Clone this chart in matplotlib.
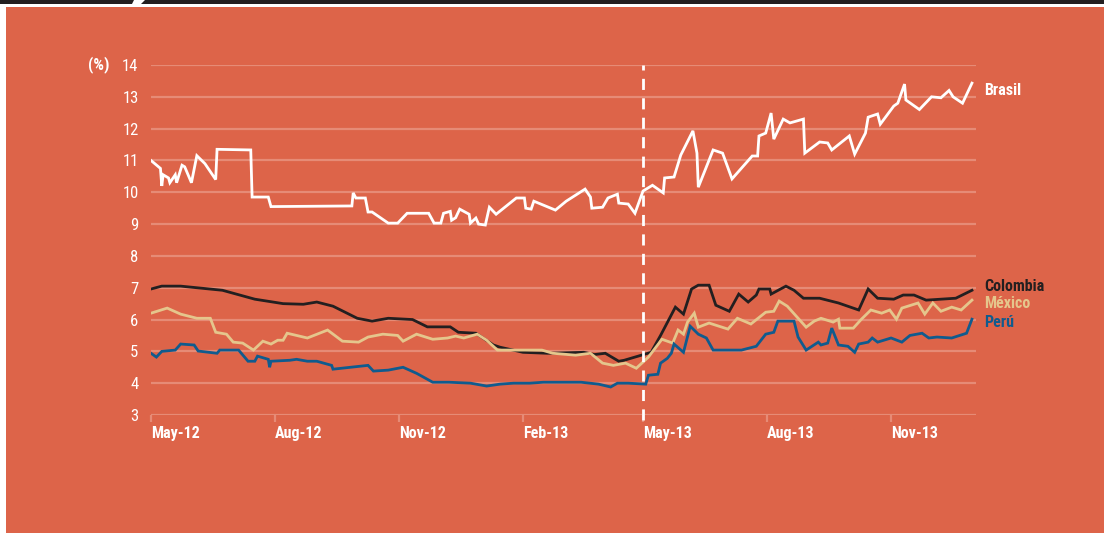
import numpy as np
import pandas as pd
import matplotlib.pyplot as plt
from matplotlib.patches import Rectangle, Polygon
from matplotlib.transforms import blended_transform_factory

# %% data (%)
brasil_dates = ['2012-05-01', '2012-05-08', '2012-05-09', '2012-05-10', '2012-05-14', '2012-05-15',
                '2012-05-19', '2012-05-20', '2012-05-24', '2012-05-26', '2012-05-31', '2012-06-04',
                '2012-06-10', '2012-06-18', '2012-06-19', '2012-07-14', '2012-07-15', '2012-07-27',
                '2012-07-29', '2012-09-27', '2012-09-28', '2012-09-30', '2012-10-07', '2012-10-09',
                '2012-10-12', '2012-10-24', '2012-10-31', '2012-11-07', '2012-11-23', '2012-11-27',
                '2012-12-02', '2012-12-04', '2012-12-09', '2012-12-10', '2012-12-13', '2012-12-16',
                '2012-12-23', '2012-12-24', '2012-12-28', '2012-12-30', '2013-01-04', '2013-01-07',
                '2013-01-12', '2013-01-27', '2013-02-02', '2013-02-03', '2013-02-07', '2013-02-09',
                '2013-02-25', '2013-03-05', '2013-03-19', '2013-03-23', '2013-03-24', '2013-04-01',
                '2013-04-05', '2013-04-12', '2013-04-13', '2013-04-20', '2013-04-25', '2013-05-01',
                '2013-05-08', '2013-05-16', '2013-05-17', '2013-05-24', '2013-05-29', '2013-06-07',
                '2013-06-10', '2013-06-11', '2013-06-22', '2013-06-29', '2013-07-06', '2013-07-21',
                '2013-07-25', '2013-07-26', '2013-07-31', '2013-08-04', '2013-08-06', '2013-08-13',
                '2013-08-18', '2013-08-28', '2013-08-29', '2013-09-09', '2013-09-15', '2013-09-18',
                '2013-10-01', '2013-10-05', '2013-10-13', '2013-10-15', '2013-10-22', '2013-10-24',
                '2013-11-03', '2013-11-06', '2013-11-11', '2013-11-12', '2013-11-22', '2013-12-01',
                '2013-12-08', '2013-12-14', '2013-12-17', '2013-12-24', '2013-12-31']
brasil = [11.0, 10.75, 10.2, 10.55, 10.45, 10.3,
          10.55, 10.3, 10.85, 10.8, 10.3, 11.15,
          10.9, 10.4, 11.35, 11.33, 9.85, 9.85,
          9.55, 9.57, 9.98, 9.82, 9.82, 9.38,
          9.38, 9.03, 9.03, 9.34, 9.34, 9.03,
          9.03, 9.34, 9.4, 9.12, 9.2, 9.47,
          9.31, 9.03, 9.19, 9.0, 8.97, 9.53,
          9.31, 9.82, 9.82, 9.5, 9.47, 9.72,
          9.44, 9.72, 10.1, 9.85, 9.5, 9.53,
          9.82, 9.94, 9.66, 9.63, 9.34, 10.04,
          10.22, 9.98, 10.45, 10.48, 11.17, 11.93,
          11.23, 10.16, 11.33, 11.23, 10.42, 11.14,
          11.14, 11.77, 11.86, 12.49, 11.67, 12.3,
          12.18, 12.3, 11.23, 11.58, 11.55, 11.33,
          11.77, 11.2, 11.86, 12.36, 12.46, 12.14,
          12.71, 12.8, 13.4, 12.9, 12.6, 13.0,
          12.97, 13.2, 13.0, 12.8, 13.43]

colombia_dates = ['2012-05-01', '2012-05-09', '2012-05-23', '2012-06-23', '2012-07-17', '2012-08-07',
                  '2012-08-22', '2012-09-01', '2012-09-13', '2012-10-01', '2012-10-12', '2012-10-24',
                  '2012-11-11', '2012-11-22', '2012-12-09', '2012-12-15', '2012-12-28', '2013-01-10',
                  '2013-01-15', '2013-02-01', '2013-02-19', '2013-03-18', '2013-03-26', '2013-04-03',
                  '2013-04-13', '2013-04-17', '2013-05-07', '2013-05-14', '2013-05-25', '2013-05-31',
                  '2013-06-06', '2013-06-11', '2013-06-19', '2013-06-24', '2013-07-04', '2013-07-11',
                  '2013-07-18', '2013-07-24', '2013-07-26', '2013-08-03', '2013-08-04', '2013-08-15',
                  '2013-08-21', '2013-08-28', '2013-09-09', '2013-09-23', '2013-10-08', '2013-10-15',
                  '2013-10-22', '2013-11-03', '2013-11-10', '2013-11-18', '2013-11-27', '2013-12-19',
                  '2013-12-31']
colombia = [6.96, 7.05, 7.05, 6.92, 6.64, 6.5,
            6.48, 6.55, 6.42, 6.04, 5.95, 6.04,
            6.0, 5.77, 5.77, 5.6, 5.57, 5.2,
            5.13, 4.97, 4.94, 4.97, 4.9, 4.94,
            4.69, 4.72, 4.97, 5.5, 6.39, 6.17,
            6.96, 7.08, 7.08, 6.45, 6.26, 6.8,
            6.55, 6.77, 6.96, 6.96, 6.8, 7.05,
            6.92, 6.67, 6.67, 6.52, 6.3, 6.96,
            6.67, 6.64, 6.77, 6.77, 6.61, 6.67,
            6.92]

mexico_dates = ['2012-05-01', '2012-05-13', '2012-05-23', '2012-06-04', '2012-06-14', '2012-06-18',
                '2012-06-26', '2012-07-01', '2012-07-08', '2012-07-16', '2012-07-23', '2012-07-29',
                '2012-08-03', '2012-08-07', '2012-08-10', '2012-08-25', '2012-09-09', '2012-09-20',
                '2012-10-02', '2012-10-09', '2012-10-20', '2012-10-31', '2012-11-04', '2012-11-14',
                '2012-11-26', '2012-12-07', '2012-12-13', '2012-12-19', '2012-12-29', '2013-01-05',
                '2013-01-13', '2013-01-20', '2013-02-15', '2013-02-23', '2013-03-12', '2013-03-23',
                '2013-04-01', '2013-04-09', '2013-04-18', '2013-04-26', '2013-05-05', '2013-05-15',
                '2013-05-23', '2013-05-27', '2013-05-31', '2013-06-03', '2013-06-08', '2013-06-11',
                '2013-06-19', '2013-07-03', '2013-07-10', '2013-07-20', '2013-07-31', '2013-08-06',
                '2013-08-10', '2013-08-16', '2013-08-30', '2013-09-05', '2013-09-10', '2013-09-19',
                '2013-09-23', '2013-09-24', '2013-10-04', '2013-10-10', '2013-10-17', '2013-10-25',
                '2013-10-31', '2013-11-05', '2013-11-09', '2013-11-21', '2013-11-26', '2013-12-02',
                '2013-12-08', '2013-12-16', '2013-12-23', '2013-12-31']
mexico = [6.2, 6.36, 6.17, 6.04, 6.04, 5.6,
          5.54, 5.29, 5.26, 5.04, 5.32, 5.23,
          5.35, 5.35, 5.57, 5.42, 5.67, 5.32,
          5.29, 5.45, 5.54, 5.5, 5.32, 5.54,
          5.38, 5.42, 5.48, 5.42, 5.54, 5.35,
          5.04, 5.04, 5.04, 4.94, 4.88, 4.94,
          4.63, 4.56, 4.63, 4.47, 4.82, 5.38,
          5.26, 5.67, 5.54, 5.92, 6.2, 5.76,
          5.89, 5.7, 6.04, 5.86, 6.23, 6.26,
          6.58, 6.42, 5.76, 5.95, 6.04, 5.92,
          6.01, 5.73, 5.73, 6.01, 6.3, 6.2,
          6.3, 6.01, 6.36, 6.52, 6.17, 6.52,
          6.26, 6.39, 6.3, 6.61]

peru_dates = ['2012-05-01', '2012-05-05', '2012-05-09', '2012-05-19', '2012-05-23', '2012-06-02',
              '2012-06-05', '2012-06-19', '2012-06-21', '2012-07-05', '2012-07-12', '2012-07-17',
              '2012-07-19', '2012-07-27', '2012-07-28', '2012-07-29', '2012-08-12', '2012-08-17',
              '2012-08-25', '2012-09-01', '2012-09-12', '2012-09-13', '2012-10-09', '2012-10-13',
              '2012-10-24', '2012-11-04', '2012-11-14', '2012-11-26', '2012-12-08', '2012-12-24',
              '2013-01-05', '2013-01-15', '2013-01-25', '2013-02-06', '2013-02-16', '2013-03-16',
              '2013-03-29', '2013-04-07', '2013-04-12', '2013-04-20', '2013-05-03', '2013-05-05',
              '2013-05-12', '2013-05-14', '2013-05-19', '2013-05-22', '2013-05-24', '2013-05-31',
              '2013-06-05', '2013-06-11', '2013-06-17', '2013-06-22', '2013-07-13', '2013-07-24',
              '2013-07-31', '2013-08-06', '2013-08-09', '2013-08-21', '2013-08-24', '2013-08-30',
              '2013-09-08', '2013-09-10', '2013-09-15', '2013-09-18', '2013-09-23', '2013-09-30',
              '2013-10-05', '2013-10-08', '2013-10-15', '2013-10-18', '2013-10-22', '2013-11-01',
              '2013-11-09', '2013-11-15', '2013-11-24', '2013-11-29', '2013-12-05', '2013-12-16',
              '2013-12-27', '2013-12-31']
peru = [4.94, 4.82, 5.0, 5.04, 5.23, 5.2,
        5.01, 4.94, 5.04, 5.04, 4.69, 4.69,
        4.85, 4.75, 4.5, 4.69, 4.72, 4.75,
        4.69, 4.69, 4.56, 4.44, 4.56, 4.38,
        4.41, 4.5, 4.31, 4.03, 4.03, 4.0,
        3.91, 3.97, 4.0, 4.0, 4.03, 4.03,
        3.97, 3.88, 4.0, 4.0, 3.97, 4.25,
        4.28, 4.63, 4.78, 4.94, 5.23, 4.97,
        5.79, 5.54, 5.42, 5.04, 5.04, 5.16,
        5.54, 5.6, 5.95, 5.95, 5.45, 5.04,
        5.29, 5.2, 5.26, 5.73, 5.2, 5.16,
        4.97, 5.23, 5.29, 5.42, 5.29, 5.42,
        5.29, 5.5, 5.57, 5.42, 5.45, 5.42,
        5.57, 6.01]

series_names = ['Brasil', 'Colombia', 'México', 'Perú']
label_y = [13.2, 7.05, 6.52, 5.92]
tick_dates = ['2012-05-01', '2012-08-01', '2012-11-01', '2013-02-01',
              '2013-05-01', '2013-08-01', '2013-11-01']
tick_labels = ['May-12', 'Aug-12', 'Nov-12', 'Feb-13', 'May-13', 'Aug-13', 'Nov-13']
marker_date = '2013-05-01'

# %% style
bg = '#DD6449'
grid_c = '#E68B76'
colors = ['white', '#231F20', '#E5C68C', '#105B8E']
plt.rcParams['font.family'] = ['Roboto Condensed', 'Roboto', 'DejaVu Sans']

fig = plt.figure(figsize=(11.04, 5.33), dpi=100, facecolor='white')
fig.patches.append(Rectangle((6/1104, 0), 1, 526/533, transform=fig.transFigure,
                             facecolor=bg, edgecolor='none', zorder=-10))
fig.patches.append(Rectangle((0, 529/533), 1, 4/533, transform=fig.transFigure,
                             facecolor='#231F20', edgecolor='none', zorder=-9))
fig.patches.append(Polygon([(134/1104, 1), (145/1104, 1), (141/1104, 529/533), (132/1104, 529/533)],
                           closed=True, transform=fig.transFigure,
                           facecolor='white', edgecolor='none', zorder=-8))

ax = fig.add_axes([151/1104, 1 - 415/533, 825/1104, 350/533])
ax.set_facecolor('none')

all_dates = [brasil_dates, colombia_dates, mexico_dates, peru_dates]
all_vals = [brasil, colombia, mexico, peru]
for d, v, c in zip(all_dates, all_vals, colors):
    ax.plot(pd.to_datetime(d), v, color=c, lw=2.0, solid_joinstyle='miter', zorder=3)

ax.set_ylim(3, 14)
ax.set_xlim(pd.Timestamp('2012-05-01'), pd.Timestamp('2014-01-03'))
ax.set_yticks(np.arange(3, 15))
for yv in np.arange(3, 15):
    ax.axhline(yv, color=grid_c, lw=1.6, zorder=1)

for s in ax.spines.values():
    s.set_visible(False)

ax.set_xticks(pd.to_datetime(tick_dates))
ax.set_xticklabels(tick_labels, fontsize=11.5, fontweight='bold', color='white', ha='left')
ax.tick_params(axis='x', length=5, width=1.6, color=grid_c, pad=3)
ax.tick_params(axis='y', length=0, pad=9, labelsize=12, labelcolor='white')

ax.axvline(pd.Timestamp(marker_date), ymin=-0.015, ymax=1, color='white', lw=2,
           dashes=(4, 3), zorder=4, clip_on=False)

tr = blended_transform_factory(ax.transAxes, ax.transData)
ax.text(-0.05, 14, '(%)', transform=tr, ha='right', va='center', color='white',
        fontsize=12, fontweight='bold')

for name, yv, c in zip(series_names, label_y, colors):
    ax.text(1.01, yv, name, transform=tr, ha='left', va='center', color=c,
            fontsize=11.5, fontweight='bold')

fig.savefig('out.png', dpi=100, facecolor=fig.get_facecolor())
